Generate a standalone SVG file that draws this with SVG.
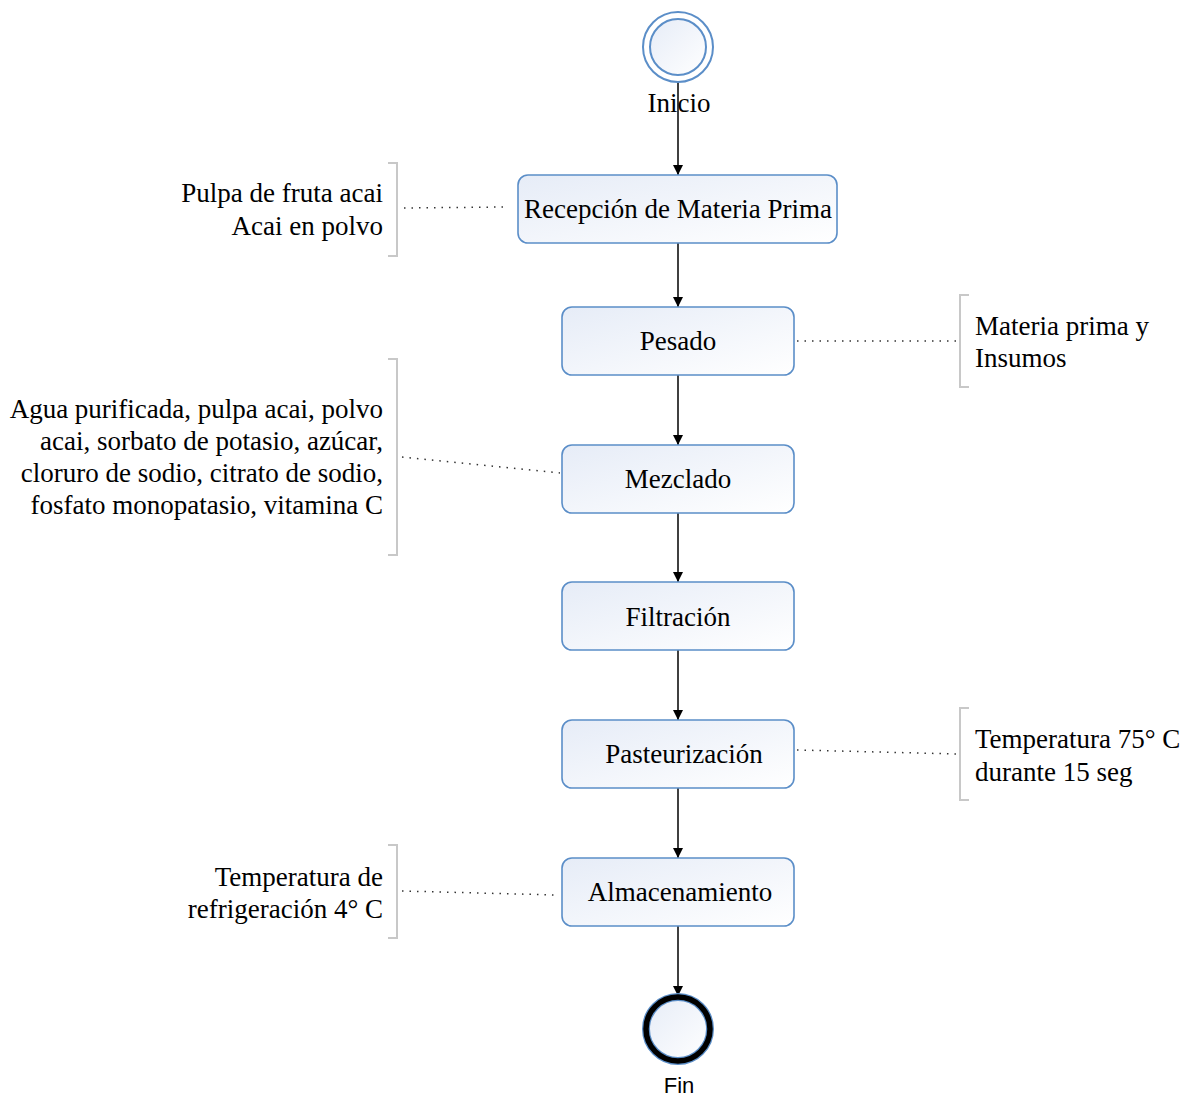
<svg xmlns="http://www.w3.org/2000/svg" width="1184" height="1095" viewBox="0 0 1184 1095">
<defs>
<linearGradient id="g" x1="0" y1="0" x2="1" y2="1">
<stop offset="0" stop-color="#e6ecf7"/>
<stop offset="1" stop-color="#ffffff"/>
</linearGradient>
<marker id="arr" markerWidth="10" markerHeight="10" refX="10" refY="5" orient="auto" markerUnits="userSpaceOnUse">
<path d="M0,0 L10,5 L0,10 Z" fill="#000"/>
</marker>
<style>
.box{fill:url(#g);stroke:#5b8ec8;stroke-width:1.6}
.t{font-family:"Liberation Serif","Times New Roman",serif;font-size:27px;fill:#000}
.conn{stroke:#000;stroke-width:1.5;fill:none}
.dot{stroke:#333;stroke-width:1.5;stroke-dasharray:1.5 6;fill:none}
.br{stroke:#c8c8c8;stroke-width:2;fill:none}
</style>
</defs>
<g id="connectors">
<line class="conn" x1="678" y1="82" x2="678" y2="175" marker-end="url(#arr)"/>
<line class="conn" x1="678" y1="243" x2="678" y2="307" marker-end="url(#arr)"/>
<line class="conn" x1="678" y1="375" x2="678" y2="445" marker-end="url(#arr)"/>
<line class="conn" x1="678" y1="513" x2="678" y2="582" marker-end="url(#arr)"/>
<line class="conn" x1="678" y1="650" x2="678" y2="720" marker-end="url(#arr)"/>
<line class="conn" x1="678" y1="788" x2="678" y2="858" marker-end="url(#arr)"/>
<line class="conn" x1="678" y1="926" x2="678" y2="996" marker-end="url(#arr)"/>
<line class="dot" x1="404" y1="208" x2="503" y2="207"/>
<line class="dot" x1="797" y1="341" x2="958" y2="341"/>
<line class="dot" x1="402" y1="457" x2="560" y2="473"/>
<line class="dot" x1="797" y1="750" x2="958" y2="754"/>
<line class="dot" x1="402" y1="891" x2="556" y2="895"/>
</g>
<g id="start">
<circle cx="678" cy="47" r="35" fill="#fff" stroke="#5b8ec8" stroke-width="2"/>
<circle cx="678" cy="47" r="28" fill="url(#g)" stroke="#5b8ec8" stroke-width="2"/>
<text class="t" x="679" y="112" text-anchor="middle">Inicio</text>
</g>
<g id="recepcion">
<rect class="box" x="518" y="175" width="319" height="68" rx="10"/>
<text class="t" x="678" y="218" text-anchor="middle">Recepción de Materia Prima</text>
</g>
<g id="pesado">
<rect class="box" x="562" y="307" width="232" height="68" rx="10"/>
<text class="t" x="678" y="350" text-anchor="middle">Pesado</text>
</g>
<g id="mezclado">
<rect class="box" x="562" y="445" width="232" height="68" rx="10"/>
<text class="t" x="678" y="488" text-anchor="middle">Mezclado</text>
</g>
<g id="filtracion">
<rect class="box" x="562" y="582" width="232" height="68" rx="10"/>
<text class="t" x="678" y="626" text-anchor="middle">Filtración</text>
</g>
<g id="pasteurizacion">
<rect class="box" x="562" y="720" width="232" height="68" rx="10"/>
<text class="t" x="684" y="763" text-anchor="middle">Pasteurización</text>
</g>
<g id="almacenamiento">
<rect class="box" x="562" y="858" width="232" height="68" rx="10"/>
<text class="t" x="680" y="901" text-anchor="middle">Almacenamiento</text>
</g>
<g id="end">
<circle cx="678" cy="1029" r="32" fill="url(#g)" stroke="#5b8ec8" stroke-width="8"/>
<circle cx="678" cy="1029" r="32" fill="none" stroke="#000" stroke-width="5.5"/>
<text x="679" y="1093" text-anchor="middle" font-family="'Liberation Sans',Arial,sans-serif" font-size="22" fill="#000">Fin</text>
</g>
<g id="note1">
<path class="br" d="M388,163 H397 V256 H388"/>
<text class="t" x="383" y="202" text-anchor="end">Pulpa de fruta acai</text>
<text class="t" x="383" y="235" text-anchor="end">Acai en polvo</text>
</g>
<g id="note2">
<path class="br" d="M969,295 H960 V387 H969"/>
<text class="t" x="975" y="335">Materia prima y</text>
<text class="t" x="975" y="367">Insumos</text>
</g>
<g id="note3">
<path class="br" d="M388,359 H397 V555 H388"/>
<text class="t" x="383" y="418" text-anchor="end">Agua purificada, pulpa acai, polvo</text>
<text class="t" x="383" y="450" text-anchor="end">acai, sorbato de potasio, azúcar,</text>
<text class="t" x="383" y="482" text-anchor="end">cloruro de sodio, citrato de sodio,</text>
<text class="t" x="383" y="514" text-anchor="end">fosfato monopatasio, vitamina C</text>
</g>
<g id="note4">
<path class="br" d="M969,708 H960 V800 H969"/>
<text class="t" x="975" y="748">Temperatura 75° C</text>
<text class="t" x="975" y="781">durante 15 seg</text>
</g>
<g id="note5">
<path class="br" d="M388,845 H397 V938 H388"/>
<text class="t" x="383" y="886" text-anchor="end">Temperatura de</text>
<text class="t" x="383" y="918" text-anchor="end">refrigeración 4° C</text>
</g>
</svg>
